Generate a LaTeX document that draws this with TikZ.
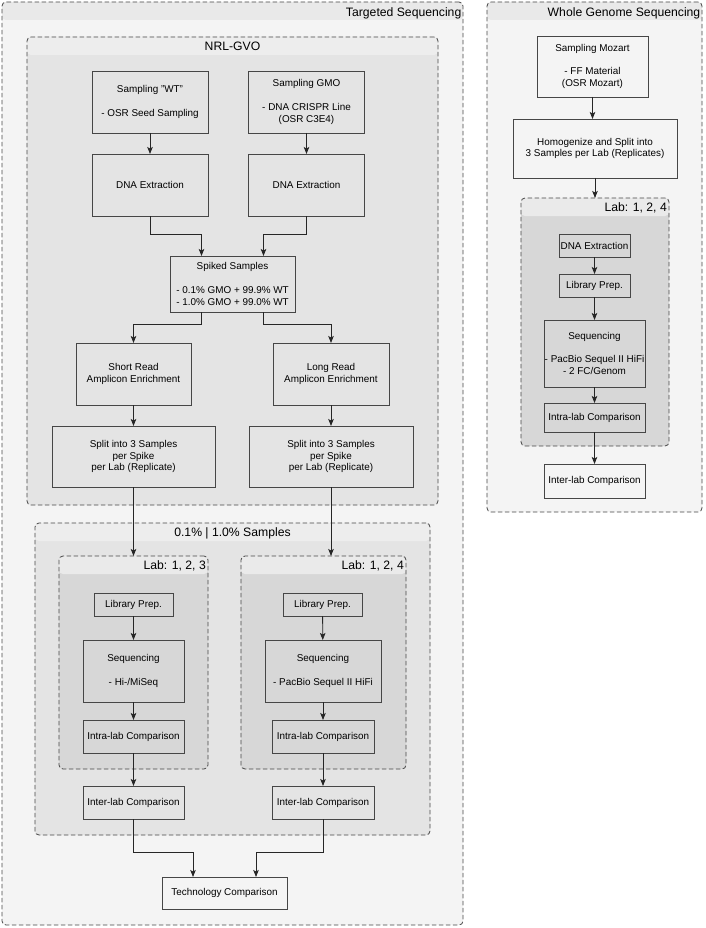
\documentclass[tikz,border=0pt]{standalone}
\usepackage{fontspec}
\setmainfont{Liberation Sans}
\usetikzlibrary{arrows.meta, positioning, calc}
\definecolor{tsbody}{RGB}{244,244,244}
\definecolor{tshead}{RGB}{233,233,233}
\definecolor{nrlbody}{RGB}{228,228,228}
\definecolor{nrlhead}{RGB}{237,237,237}
\definecolor{labbody}{RGB}{215,215,215}
\definecolor{labhead}{RGB}{234,234,234}
\definecolor{framegray}{RGB}{70,70,70}

\begin{document}
\begin{tikzpicture}[x=1pt, y=-1pt,
  group/.style 2 args={draw=framegray, line width=0.8pt, dash pattern=on 4.5pt off 2.5pt, rounded corners=4pt,
    inner sep=0pt, outer sep=0pt, fill=#1,
    path picture={\fill[#2] (path picture bounding box.north west) rectangle ([yshift=-18pt]path picture bounding box.north east);}},
  grouptitle/.style={font=\fontsize{12.2}{14}\selectfont, inner sep=0pt},
  stepbox/.style={draw=framegray, line width=0.8pt, inner sep=0pt, outer sep=0pt, align=center, font=\fontsize{9.9}{11.8}\selectfont},
  arrow/.style={-{Stealth[length=7pt, width=5.5pt, inset=1.5pt]}, line width=0.8pt, black!85}
]
  \useasboundingbox (0,0) rectangle (705,928);

  % Containers
  \node[group={tsbody}{tshead}, minimum width=461pt, minimum height=923pt] (ts) at (232.5, 463.5) {};
  \node[grouptitle, anchor=east] (ts-title) at ([xshift=-1.5pt, yshift=-11pt]ts.north east) {Targeted Sequencing};

  \node[group={nrlbody}{nrlhead}, minimum width=411pt, minimum height=468pt] (nrl) at (232.5, 271) {};
  \node[grouptitle] (nrl-title) at ([yshift=-9pt]nrl.north) {NRL-GVO};

  \node[group={nrlbody}{nrlhead}, minimum width=395pt, minimum height=312pt] (samples) at (232.5, 679) {};
  \node[grouptitle] (samples-title) at ([yshift=-10pt]samples.north) {0.1\% | 1.0\% Samples};

  \node[group={labbody}{labhead}, minimum width=149pt, minimum height=213pt] (lab-a) at (133.5, 662.5) {};
  \node[grouptitle, anchor=east] (lab-a-title) at ([xshift=-2pt, yshift=-10pt]lab-a.north east) {Lab: 1, 2, 3};

  \node[group={labbody}{labhead}, minimum width=165pt, minimum height=213pt] (lab-b) at (323.5, 662.5) {};
  \node[grouptitle, anchor=east] (lab-b-title) at ([xshift=-2pt, yshift=-10pt]lab-b.north east) {Lab: 1, 2, 4};

  \node[group={tsbody}{tshead}, minimum width=215pt, minimum height=510pt] (wgs) at (594.5, 257) {};
  \node[grouptitle, anchor=east] (wgs-title) at ([xshift=-1.5pt, yshift=-11pt]wgs.north east) {Whole Genome Sequencing};

  \node[group={labbody}{labhead}, minimum width=148pt, minimum height=248pt] (lab-c) at (595, 322) {};
  \node[grouptitle, anchor=east] (lab-c-title) at ([xshift=-2pt, yshift=-10pt]lab-c.north east) {Lab: 1, 2, 4};

  % NRL-GVO
  \node[stepbox, minimum width=116pt, minimum height=62pt] (samp-wt) at (150, 102) {Sampling "WT"\\[11.8pt]- OSR Seed Sampling};
  \node[stepbox, minimum width=116pt, minimum height=62pt] (samp-gmo) at (306.5, 102) {Sampling GMO\\[11.8pt]- DNA CRISPR Line\\(OSR C3E4)};
  \node[stepbox, minimum width=116pt, minimum height=62pt] (dna-wt) at (150, 185) {DNA Extraction};
  \node[stepbox, minimum width=116pt, minimum height=62pt] (dna-gmo) at (306.5, 185) {DNA Extraction};
  \node[stepbox, minimum width=125pt, minimum height=56pt] (spiked) at (232.5, 284) {Spiked Samples\\[11.8pt]- 0.1\% GMO + 99.9\% WT\\- 1.0\% GMO + 99.0\% WT};
  \node[stepbox, minimum width=115pt, minimum height=62pt] (short) at (133.5, 374) {Short Read\\Amplicon Enrichment};
  \node[stepbox, minimum width=116pt, minimum height=62pt] (long) at (331, 374) {Long Read\\Amplicon Enrichment};
  \node[stepbox, minimum width=163pt, minimum height=61pt] (split-short) at (133.5, 456.5) {Split into 3 Samples\\per Spike\\per Lab (Replicate)};
  \node[stepbox, minimum width=164pt, minimum height=61pt] (split-long) at (331, 456.5) {Split into 3 Samples\\per Spike\\per Lab (Replicate)};

  \draw[arrow] (samp-wt) -- (dna-wt);
  \draw[arrow] (samp-gmo) -- (dna-gmo);
  \draw[arrow] (dna-wt.south) -- ++(0,18) -| ([xshift=-31pt]spiked.north);
  \draw[arrow] (dna-gmo.south) -- ++(0,18) -| ([xshift=31pt]spiked.north);
  \draw[arrow] ([xshift=-31pt]spiked.south) -- ++(0,12) -| (short.north);
  \draw[arrow] ([xshift=31pt]spiked.south) -- ++(0,12) -| (long.north);
  \draw[arrow] (short) -- (split-short);
  \draw[arrow] (long) -- (split-long);

  % Samples, short read
  \node[stepbox, minimum width=79pt, minimum height=23pt] (lib-a) at (133.5, 604.5) {Library Prep.};
  \node[stepbox, minimum width=101pt, minimum height=62pt] (seq-a) at (133.5, 671) {Sequencing\\[11.8pt]- Hi-/MiSeq};
  \node[stepbox, minimum width=101pt, minimum height=33pt] (intra-a) at (133.5, 736.5) {Intra-lab Comparison};
  \node[stepbox, minimum width=101pt, minimum height=33pt] (inter-a) at (133.5, 802.5) {Inter-lab Comparison};

  % Samples, long read
  \node[stepbox, minimum width=79pt, minimum height=23pt] (lib-b) at (322.5, 604.5) {Library Prep.};
  \node[stepbox, minimum width=116pt, minimum height=62pt] (seq-b) at (323, 671) {Sequencing\\[11.8pt]- PacBio Sequel II HiFi};
  \node[stepbox, minimum width=102pt, minimum height=33pt] (intra-b) at (323, 736.5) {Intra-lab Comparison};
  \node[stepbox, minimum width=102pt, minimum height=33pt] (inter-b) at (323, 802.5) {Inter-lab Comparison};

  \node[stepbox, minimum width=125pt, minimum height=32pt] (tech) at (224.5, 893) {Technology Comparison};

  \draw[arrow] (split-short) -- (lab-a.north);
  \draw[arrow] (split-long.south) -- (split-long.south |- lab-b.north);
  \draw[arrow] (lib-a) -- (seq-a);
  \draw[arrow] (seq-a) -- (intra-a);
  \draw[arrow] (intra-a) -- (inter-a);
  \draw[arrow] (lib-b) -- (seq-b);
  \draw[arrow] (seq-b) -- (intra-b);
  \draw[arrow] (intra-b) -- (inter-b);
  \draw[arrow] (inter-a.south) -- ++(0,33) -| ([xshift=-31.5pt]tech.north);
  \draw[arrow] (inter-b.south) -- ++(0,33) -| ([xshift=31.5pt]tech.north);

  % Whole genome
  \node[stepbox, minimum width=111pt, minimum height=61pt] (mozart) at (592.5, 66.5) {Sampling Mozart\\[11.8pt]- FF Material\\(OSR Mozart)};
  \node[stepbox, minimum width=164pt, minimum height=59pt] (homog) at (595, 148.5) {Homogenize and Split into\\3 Samples per Lab (Replicates)};
  \node[stepbox, minimum width=71pt, minimum height=23pt] (dna-c) at (594.5, 245.5) {DNA Extraction};
  \node[stepbox, minimum width=71pt, minimum height=23pt] (lib-c) at (594.5, 285.5) {Library Prep.};
  \node[stepbox, minimum width=101pt, minimum height=67pt] (seq-c) at (594.5, 353.5) {Sequencing\\[11.8pt]- PacBio Sequel II HiFi\\- 2 FC/Genom};
  \node[stepbox, minimum width=101pt, minimum height=29pt] (intra-c) at (594.5, 417.5) {Intra-lab Comparison};
  \node[stepbox, minimum width=101pt, minimum height=34pt] (inter-c) at (594.5, 481) {Inter-lab Comparison};

  \draw[arrow] (mozart) -- (mozart.south |- homog.north);
  \draw[arrow] (homog.south) -- (homog.south |- lab-c.north);
  \draw[arrow] (dna-c) -- (lib-c);
  \draw[arrow] (lib-c) -- (seq-c);
  \draw[arrow] (seq-c) -- (intra-c);
  \draw[arrow] (intra-c) -- (inter-c);
\end{tikzpicture}
\end{document}
